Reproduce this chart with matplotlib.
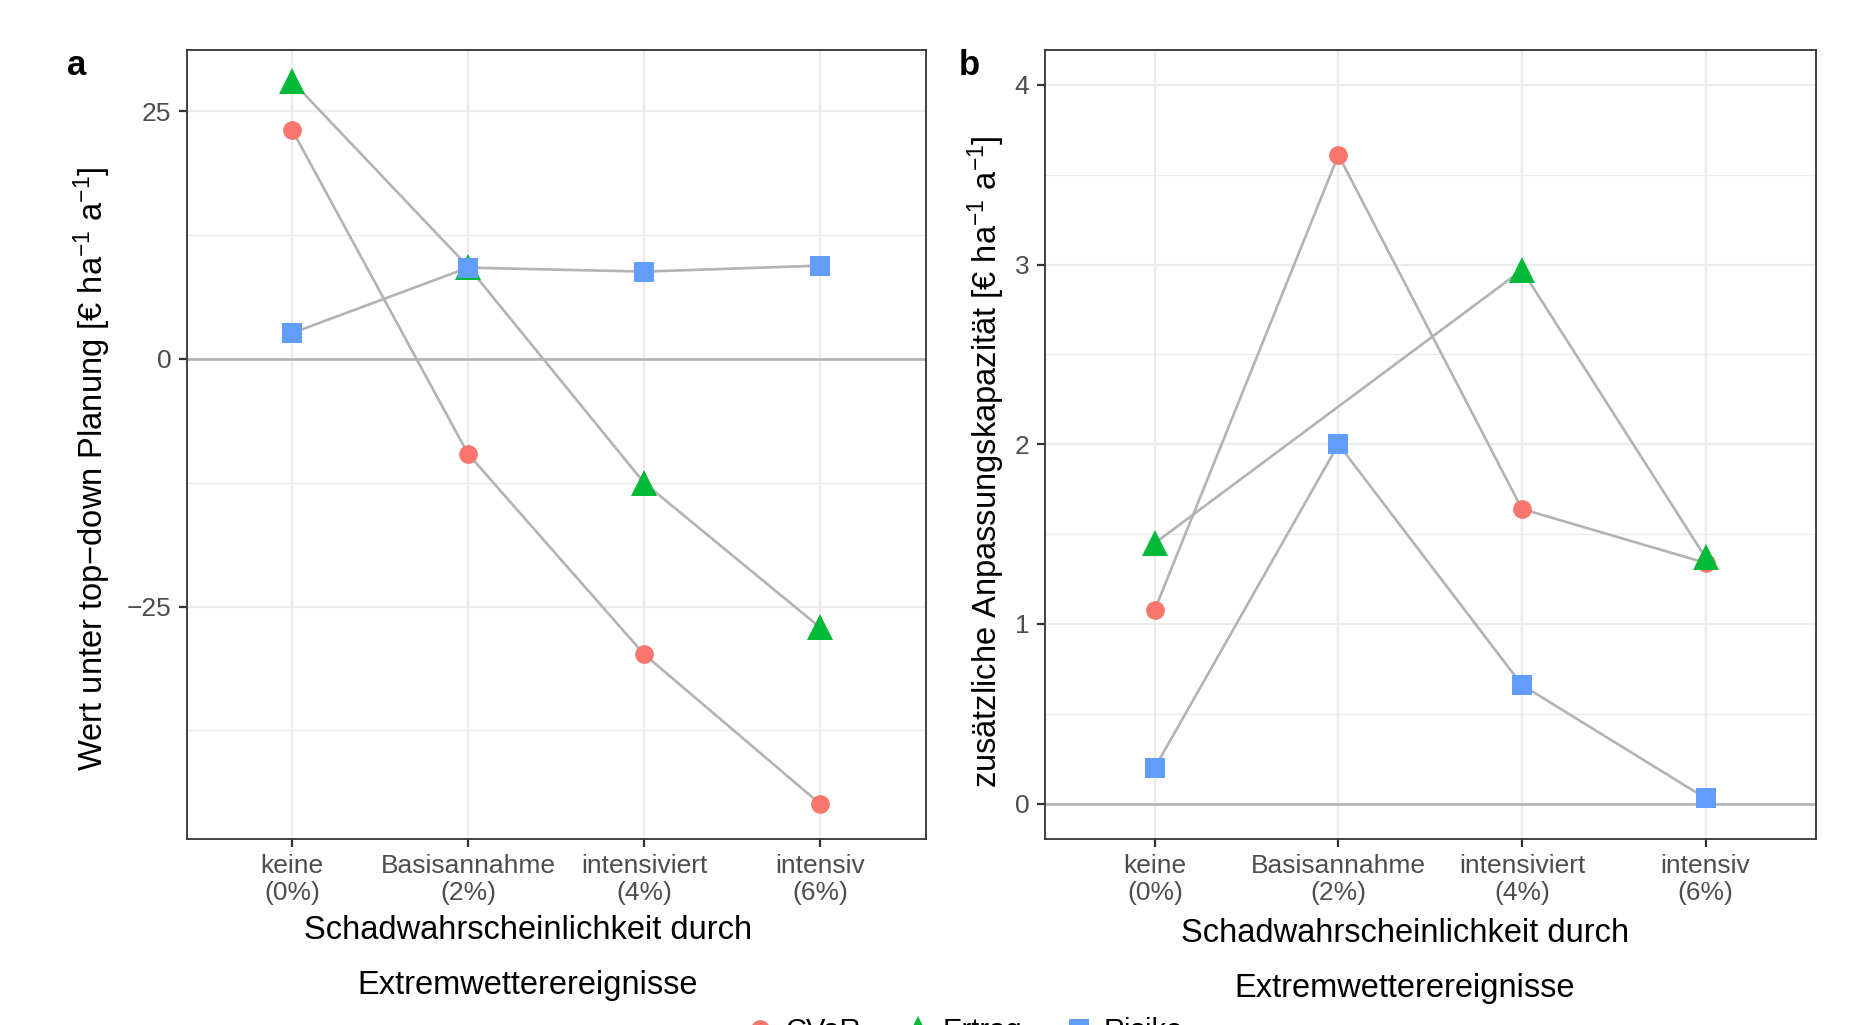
import numpy as np
import matplotlib.pyplot as plt
from matplotlib.lines import Line2D
from matplotlib.ticker import MultipleLocator

plt.rcParams['font.family'] = ['Liberation Sans', 'DejaVu Sans']
plt.rcParams['mathtext.fontset'] = 'custom'
plt.rcParams['mathtext.rm'] = 'Liberation Sans'
plt.rcParams['mathtext.it'] = 'Liberation Sans:italic'

# ---data---
categories = ['keine\n(0%)', 'Basisannahme\n(2%)', 'intensiviert\n(4%)', 'intensiv\n(6%)']
series = ['CVaR', 'Ertrag', 'Risiko']

# panel a: Wert unter top-down Planung
a_cvar = [23.1, -9.6, -29.8, -44.9]
a_ertrag = [28.0, 9.3, -12.5, -27.1]
a_risiko = [2.6, 9.2, 8.8, 9.4]

# panel b: zusaetzliche Anpassungskapazitaet (Ertrag bei Basisannahme fehlt)
b_cvar = [1.08, 3.61, 1.64, 1.34]
b_ertrag = [1.45, np.nan, 2.97, 1.37]
b_risiko = [0.20, 2.00, 0.66, 0.03]

COLORS = {'CVaR': '#F8766D', 'Ertrag': '#00BA38', 'Risiko': '#619CFF'}
MARKERS = {'CVaR': ('o', 13.5), 'Ertrag': ('^', 19), 'Risiko': ('s', 14.5)}
LINE_GREY = '#B3B3B3'
TICK_GREY = '#4D4D4D'
X_TITLE = 'Schadwahrscheinlichkeit durch\nExtremwetterereignisse'


def draw_panel(ax, values, ylim, major, minor, ylabel, xlab_x, xlab_y):
    x = np.arange(len(categories))
    ax.set_xlim(-0.6, len(categories) - 0.4)
    ax.set_ylim(*ylim)

    # --- grid (theme_bw like) ---
    ax.yaxis.set_major_locator(MultipleLocator(major))
    ax.yaxis.set_minor_locator(MultipleLocator(minor))
    ax.set_xticks(x)
    ax.grid(True, which='major', color='#EBEBEB', linewidth=1.6, zorder=0)
    ax.grid(True, which='minor', axis='y', color='#EBEBEB', linewidth=0.9, zorder=0)
    ax.set_axisbelow(True)
    ax.axhline(0, color=LINE_GREY, linewidth=1.9, zorder=1)

    # --- lines first, points on top ---
    for name in series:
        y = np.array(values[name], dtype=float)
        m = np.isfinite(y)
        ax.plot(x[m], y[m], color=LINE_GREY, linewidth=1.9, zorder=2, solid_capstyle='butt')
    for name in series:
        y = np.array(values[name], dtype=float)
        mk, ms = MARKERS[name]
        ax.plot(x, y, linestyle='none', marker=mk, markersize=ms,
                color=COLORS[name], markeredgewidth=0, zorder=3)

    ax.set_xticklabels(categories, linespacing=1.15)
    ax.tick_params(which='major', length=6, width=1.6, color='#333333',
                   labelsize=19, labelcolor=TICK_GREY, pad=5)
    ax.tick_params(which='minor', length=0)
    for s in ax.spines.values():
        s.set_color('#333333')
        s.set_linewidth(1.3)

    ax.set_ylabel(ylabel, fontsize=23.5, va='center')
    ax.set_xlabel(X_TITLE, fontsize=23.5, linespacing=2.0)
    ax.xaxis.set_label_coords(xlab_x, xlab_y, transform=ax.transAxes)
    ax.xaxis.label.set_verticalalignment('top')
    return ax


fig = plt.figure(figsize=(18.51, 10.25), dpi=100)
ax_a = fig.add_axes([0.1008, 0.1815, 0.3992, 0.7701])
ax_b = fig.add_axes([0.5644, 0.1815, 0.4165, 0.7701])

draw_panel(ax_a, {'CVaR': a_cvar, 'Ertrag': a_ertrag, 'Risiko': a_risiko},
           (-48.45, 31.2), 25, 12.5,
           'Wert unter top\u2212down Planung [\u20ac ha$^{-1}$ a$^{-1}$]', 0.462, -0.096)
draw_panel(ax_b, {'CVaR': b_cvar, 'Ertrag': b_ertrag, 'Risiko': b_risiko},
           (-0.197, 4.197), 1, 0.5,
           'zus\u00e4tzliche Anpassungskapazit\u00e4t [\u20ac ha$^{-1}$ a$^{-1}$]', 0.467, -0.1)

ax_a.yaxis.set_label_coords(92 / 1851, 0.5427, transform=fig.transFigure)
ax_b.yaxis.set_label_coords(986 / 1851, 0.5497, transform=fig.transFigure)
ax_a.set_yticks([-25, 0, 25])

fig.text(77 / 1851, 1 - 65 / 1025, 'a', fontsize=25, fontweight='bold', ha='center', va='center')
fig.text(969 / 1851, 1 - 65 / 1025, 'b', fontsize=25, fontweight='bold', ha='center', va='center')

# --- legend (cut at the bottom edge like the original) ---
handles = [Line2D([], [], linestyle='none', marker=MARKERS[n][0], markersize=MARKERS[n][1],
                  color=COLORS[n], markeredgewidth=0) for n in series]
fig.legend(handles, series, loc='upper center', bbox_to_anchor=(0.521, 0.022), ncol=3,
           frameon=False, fontsize=21, handletextpad=0.35, columnspacing=1.45,
           handlelength=1.0, borderpad=0)

fig.savefig('out.png', dpi=100)
